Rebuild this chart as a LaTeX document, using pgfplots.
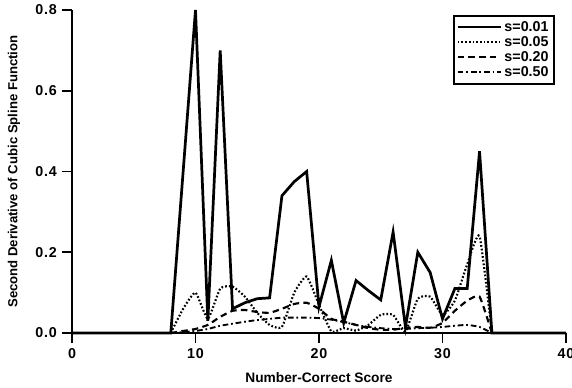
\documentclass[border=0pt]{standalone}
\usepackage{fontspec}
\setmainfont{Liberation Sans}
\newfontfamily\tickfont[LetterSpace=6]{Liberation Sans}
\usepackage{pgfplots}
\usepackage{pgfplotstable}
\pgfplotsset{compat=1.18}
\pgfplotstableread{
x s01 s05 s20 s50
0 0 0 0 0
1 0 0 0 0
2 0 0 0 0
3 0 0 0 0
4 0 0 0 0
5 0 0 0 0
6 0 0 0 0
7 0 0 0 0
8 0 0 0 0
9 0.40 0.06 0.005 0.002
10 0.80 0.10 0.010 0.005
11 0.03 0.035 0.020 0.010
12 0.70 0.11 0.040 0.018
13 0.06 0.115 0.055 0.023
14 0.075 0.09 0.057 0.028
15 0.085 0.05 0.052 0.032
16 0.087 0.02 0.050 0.035
17 0.34 0.015 0.060 0.038
18 0.375 0.10 0.072 0.038
19 0.40 0.14 0.075 0.038
20 0.065 0.07 0.060 0.037
21 0.18 0.004 0.035 0.033
22 0.025 0.012 0.028 0.027
23 0.13 0.006 0.020 0.020
24 0.105 0.02 0.012 0.015
25 0.082 0.045 0.008 0.012
26 0.25 0.045 0.008 0.010
27 0.015 0.004 0.013 0.010
28 0.20 0.085 0.015 0.012
29 0.15 0.09 0.013 0.013
30 0.035 0.045 0.025 0.015
31 0.11 0.08 0.055 0.018
32 0.11 0.17 0.080 0.020
33 0.45 0.24 0.090 0.015
34 0 0 0 0
35 0 0 0 0
36 0 0 0 0
37 0 0 0 0
38 0 0 0 0
39 0 0 0 0
40 0 0 0 0
}\datatable
\begin{document}
\begin{tikzpicture}
\begin{axis}[
  scale only axis,
  width=345.8pt, height=226.1pt,
  xmin=0, xmax=40, ymin=0, ymax=0.8,
  axis x line*=bottom, axis y line*=left,
  axis line style={line width=1.6pt},
  clip=false,
  xtick={0,10,20,30,40},
  ytick={0,0.2,0.4,0.6,0.8},
  tick align=outside,
  major tick length=7pt,
  every tick/.style={black, line width=1.2pt},
  /pgf/number format/assume math mode=true,
  yticklabel style={/pgf/number format/.cd, fixed, fixed zerofill, precision=1},
  tick label style={font=\tickfont\bfseries\fontsize{10}{12}\selectfont},
  xlabel={Number-Correct Score},
  ylabel={Second Derivative of Cubic Spline Function},
  xlabel style={font=\bfseries\fontsize{9.6}{11}\selectfont, at={(axis description cs:0.5,-0.139)}, anchor=center},
  ylabel style={font=\bfseries\fontsize{9.2}{11}\selectfont, at={(axis description cs:-0.1174,0.5)}, anchor=center},
  legend style={at={(rel axis cs:0.978,0.985)}, anchor=north east,
    draw=black, line width=1.2pt, font=\bfseries\fontsize{10}{11}\selectfont,
    row sep=-2pt, inner sep=2pt},
  legend cell align=left,
  legend image code/.code={\draw[#1, line width=1.4pt] (0pt,0pt) -- (30pt,0pt);},
]
\addplot[black, line width=1.9pt, line join=miter] table[x=x, y=s01] {\datatable};
\addlegendentry{s=0.01}
\addplot[black, line width=1.5pt, dash pattern=on 1.2pt off 1.4pt, smooth, tension=0.3, restrict x to domain=8:34] table[x=x, y=s05] {\datatable};
\addlegendentry{s=0.05}
\addplot[black, line width=1.5pt, dash pattern=on 4.5pt off 3pt, smooth, tension=0.3, restrict x to domain=8:34] table[x=x, y=s20] {\datatable};
\addlegendentry{s=0.20}
\addplot[black, line width=1.3pt, dash pattern=on 4pt off 2pt on 1.2pt off 2pt, smooth, tension=0.3, restrict x to domain=8:34] table[x=x, y=s50] {\datatable};
\addlegendentry{s=0.50}
\end{axis}
\pgfresetboundingbox
\path[use as bounding box] ([shift={(-50.4pt,-37.8pt)}]current axis.south west) rectangle ([shift={(4.2pt,7pt)}]current axis.north east);
\end{tikzpicture}
\end{document}
